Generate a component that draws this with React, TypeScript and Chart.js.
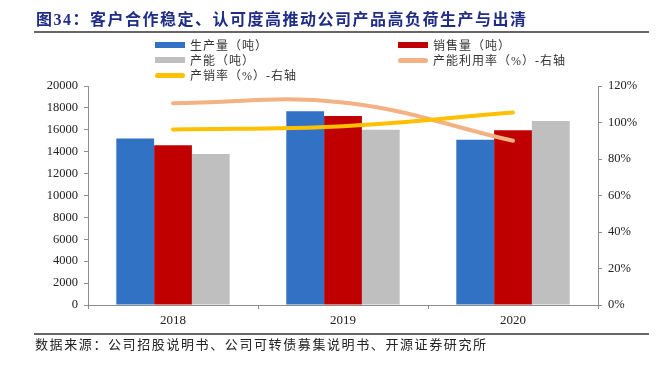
import React, { useEffect, useRef } from "react";
import { Chart, registerables } from "chart.js";

Chart.register(...registerables);

const categories = ["2018", "2019", "2020"];
const production = [15200, 17700, 15100];
const sales = [14600, 17250, 15950];
const capacity = [13800, 16000, 16800];
const utilization = [110.5, 111, 90];
const salesRate = [96.2, 98, 105.5];

const leftTicks = [0, 2000, 4000, 6000, 8000, 10000, 12000, 14000, 16000, 18000, 20000];
const rightTicks = [0, 20, 40, 60, 80, 100, 120];

const seriesNames = ["生产量（吨）", "销售量（吨）", "产能（吨）", "产能利用率（%）-右轴", "产销率（%）-右轴"];
const seriesColors = ["#3172C4", "#C00000", "#BFBFBF", "#F4B183", "#FFC000"];

const titleText = "图34：客户合作稳定、认可度高推动公司产品高负荷生产与出清";
const sourceText = "数据来源：公司招股说明书、公司可转债募集说明书、开源证券研究所";

const NUM_FONT = "'Liberation Serif', 'Times New Roman', serif";
const CJK_FONT = "'Liberation Serif', 'Noto Sans CJK SC', serif";

export default function App() {
  const ref = useRef<HTMLCanvasElement | null>(null);

  useEffect(() => {
    document.body.style.margin = "0";
    const canvas = ref.current;
    if (!canvas) return;
    const axisColor = "#8C8C8C";
    const chart = new Chart(canvas, {
      type: "bar",
      data: {
        labels: categories,
        datasets: [
          { type: "bar", label: seriesNames[0], data: production, backgroundColor: seriesColors[0], yAxisID: "y", order: 2 },
          { type: "bar", label: seriesNames[1], data: sales, backgroundColor: seriesColors[1], yAxisID: "y", order: 2 },
          { type: "bar", label: seriesNames[2], data: capacity, backgroundColor: seriesColors[2], yAxisID: "y", order: 2 },
          {
            type: "line", label: seriesNames[3], data: utilization, borderColor: seriesColors[3],
            borderWidth: 4, pointRadius: 0, tension: 0.4, yAxisID: "y1", order: 1, borderCapStyle: "round",
          },
          {
            type: "line", label: seriesNames[4], data: salesRate, borderColor: seriesColors[4],
            borderWidth: 4, pointRadius: 0, tension: 0.4, yAxisID: "y1", order: 0, borderCapStyle: "round",
          },
        ] as any,
      },
      options: {
        animation: false,
        responsive: false,
        maintainAspectRatio: false,
        layout: { padding: { top: 86, bottom: 34, left: 0, right: 0 } },
        datasets: { bar: { barPercentage: 1, categoryPercentage: 0.667 } } as any,
        plugins: { legend: { display: false }, tooltip: { enabled: false } },
        scales: {
          x: {
            offset: true,
            grid: { display: true, drawOnChartArea: false, offset: true, tickLength: 4, color: axisColor },
            border: { display: true, color: axisColor, width: 1 },
            ticks: { color: "#222", font: { family: NUM_FONT, size: 13 }, padding: 4 },
            afterFit: (s: any) => { s.height = 28; },
          },
          y: {
            position: "left",
            min: 0,
            max: 20000,
            afterBuildTicks: (s: any) => { s.ticks = leftTicks.map((v) => ({ value: v })); },
            grid: { display: true, drawOnChartArea: false, tickLength: 4, color: axisColor },
            border: { display: true, color: axisColor, width: 1 },
            ticks: { color: "#222", font: { family: NUM_FONT, size: 12.5 }, padding: 6, callback: (v: any) => String(v) },
            afterFit: (s: any) => { s.width = 88; },
          },
          y1: {
            position: "right",
            min: 0,
            max: 120,
            afterBuildTicks: (s: any) => { s.ticks = rightTicks.map((v) => ({ value: v })); },
            grid: { display: true, drawOnChartArea: false, tickLength: 4, color: axisColor },
            border: { display: true, color: axisColor, width: 1 },
            ticks: { color: "#222", font: { family: NUM_FONT, size: 12.5 }, padding: 6, callback: (v: any) => v + "%" },
            afterFit: (s: any) => { s.width = 65; },
          },
        },
      } as any,
    });
    return () => chart.destroy();
  }, []);

  const legendPos = [
    { x: 155, y: 45 },
    { x: 398, y: 45 },
    { x: 155, y: 60 },
    { x: 398, y: 60 },
    { x: 155, y: 75 },
  ];

  return (
    <div style={{ position: "relative", width: 663, height: 367, background: "#fff", overflow: "hidden" }}>
      <canvas ref={ref} width={663} height={367} style={{ position: "absolute", left: 0, top: 0 }} />
      <div
        style={{
          position: "absolute", left: 36, top: 10, fontFamily: CJK_FONT, fontWeight: "bold",
          fontSize: 16, letterSpacing: 1.5, color: "#1F2D86", whiteSpace: "nowrap", lineHeight: "20px",
        }}
      >
        {titleText}
      </div>
      <div style={{ position: "absolute", left: 34, top: 31, width: 615, height: 2, background: "#666" }} />
      {seriesNames.map((name, i) => {
        const isLine = i >= 3;
        return (
          <div key={name} style={{ position: "absolute", left: legendPos[i].x, top: legendPos[i].y - 8, height: 16, display: "flex", alignItems: "center", whiteSpace: "nowrap" }}>
            <span
              style={{
                display: "inline-block", width: 30, height: isLine ? 5 : 6, background: seriesColors[i],
                borderRadius: isLine ? 3 : 0, marginRight: 5,
              }}
            />
            <span style={{ fontFamily: CJK_FONT, fontSize: 12, letterSpacing: 1, color: "#333" }}>{name}</span>
          </div>
        );
      })}
      <div style={{ position: "absolute", left: 34, top: 333, width: 615, height: 1.5, background: "#666" }} />
      <div
        style={{
          position: "absolute", left: 35, top: 336, fontFamily: CJK_FONT, fontSize: 13,
          letterSpacing: 1.6, color: "#222", whiteSpace: "nowrap", lineHeight: "17px",
        }}
      >
        {sourceText}
      </div>
    </div>
  );
}
